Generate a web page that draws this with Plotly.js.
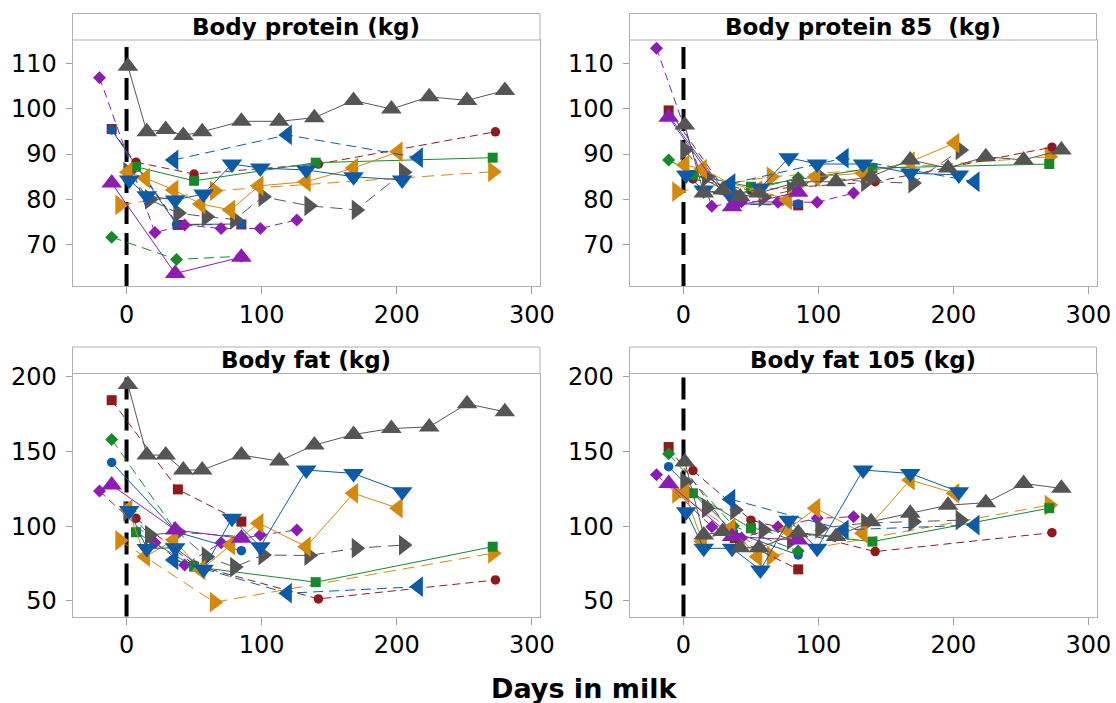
<!DOCTYPE html>
<html><head><meta charset="utf-8">
<script src="https://cdn.plot.ly/plotly-3.0.1.min.js"></script>
<style>html,body{margin:0;padding:0;background:#fff}#chart{width:1116px;height:703px}</style>
</head><body><div id="chart"></div>
<script>
// ---- text ----
const panelTitles = ["Body protein (kg)", "Body protein 85\u00a0 (kg)", "Body fat (kg)", "Body fat 105 (kg)"];
const xAxisLabel = "Days in milk";
const xTickVals = [0, 100, 200, 300];
const proteinTickVals = [70, 80, 90, 100, 110];
const fatTickVals = [50, 100, 150, 200];

// ---- data: one block per animal (days in milk, then protein, protein 85, fat, fat 105) ----
const grayTriUpDays      = [1, 15, 29, 42, 56, 85, 113, 139, 168, 196, 224, 252, 280];
const grayTriUpProtein   = [109.3, 94.9, 95.4, 94.1, 94.9, 97.2, 97.2, 98.0, 101.8, 99.9, 102.6, 101.8, 104.0];
const grayTriUpProtein85 = [96.4, 81.4, 82.1, 80.6, 81.4, 83.9, 83.9, 85.0, 88.7, 86.9, 89.4, 88.7, 90.9];
const grayTriUpFat       = [195, 147.6, 147.6, 137.6, 137.6, 147.6, 143.6, 154.3, 161.4, 165.4, 166.5, 182, 176.6];
const grayTriUpFat105    = [143, 94, 96.3, 85.5, 85.5, 95.5, 93, 103, 108.6, 114, 115.7, 128.6, 125.3];

const grayTriRightDays      = [1, 17, 38, 59, 80, 101, 135, 170, 205];
const grayTriRightProtein   = [86, 80, 77, 76.2, 75.6, 80.6, 78.6, 77.7, 86];
const grayTriRightProtein85 = [90.9, 85, 81, 80.5, 82, 85, 83.9, 83.6, 90.9];
const grayTriRightFat       = [110, 94, 96, 79.5, 72.5, 80.6, 80.3, 85.2, 87.3];
const grayTriRightFat105    = [129.5, 112, 110.8, 97.4, 90.7, 98.5, 102, 103, 104];

const purpleDiamondDays      = [-20, 21, 43, 70, 99, 126];
const purpleDiamondProtein   = [106.8, 72.7, 74.4, 73.6, 73.6, 75.5];
const purpleDiamondProtein85 = [113.3, 78.5, 79.5, 79.4, 79.4, 81.4];
const purpleDiamondFat       = [123.5, 88.9, 74, 88.9, 94, 97.4];
const purpleDiamondFat105    = [134.5, 99.6, 92, 99.6, 105.2, 106.3];

const purpleTriUpDays      = [-11, 36, 85];
const purpleTriUpProtein   = [83.6, 63.7, 67.3];
const purpleTriUpProtein85 = [98.1, 78.4, 81.6];
const purpleTriUpFat       = [127.5, 97.4, 91.8];
const purpleTriUpFat105    = [128.6, 93, 90.7];

const redSquareDays      = [-11, 38, 85];
const redSquareProtein   = [95.5, 74.4, 74.5];
const redSquareProtein85 = [99.6, 79, 78.7];
const redSquareFat       = [184.4, 124.6, 103];
const redSquareFat105    = [153, 92, 71];

const greenDiamondDays      = [-11, 37, 85];
const greenDiamondProtein   = [71.7, 66.8, 67.5];
const greenDiamondProtein85 = [88.7, 81, 84.8];
const greenDiamondFat       = [158.1, 96, 93];
const greenDiamondFat105    = [148.5, 100, 83.3];

const blueCircleDays      = [-11, 37, 85];
const blueCircleProtein   = [95.3, 74.5, 74.6];
const blueCircleProtein85 = [98.5, 79, 79];
const blueCircleFat       = [142.7, 96, 83.5];
const blueCircleFat105    = [139.8, 96, 80.7];

const redCircleDays      = [7, 50, 142, 273];
const redCircleProtein   = [88.2, 85.6, 87.8, 94.9];
const redCircleProtein85 = [84.5, 82, 83.9, 91.5];
const redCircleFat       = [105.2, 74, 51.2, 63.9];
const redCircleFat105    = [137.2, 104, 82.9, 95.6];

const greenSquareDays      = [7, 50, 140, 271];
const greenSquareProtein   = [87.2, 84.1, 88.1, 89.2];
const greenSquareProtein85 = [85.4, 82.8, 86.9, 87.8];
const greenSquareFat       = [95.9, 72.8, 62.4, 86.2];
const greenSquareFat105    = [122, 98.5, 89.6, 112];

const blueTriLeftDays      = [35, 119, 216];
const blueTriLeftProtein   = [88.7, 94.2, 89.2];
const blueTriLeftProtein85 = [83.5, 89.1, 83.9];
const blueTriLeftFat       = [77.3, 55, 59.4];
const blueTriLeftFat105    = [118, 97.5, 100.7];

const blueTriDownDays      = [2, 15, 36, 57, 78, 99, 133, 168, 204];
const blueTriDownProtein   = [84.3, 80.8, 79.9, 81.2, 87.8, 86.9, 86.5, 85, 84.3];
const blueTriDownProtein85 = [85.4, 82.1, 80.5, 82.5, 89.2, 87.8, 87.8, 85.8, 85.4];
const blueTriDownFat       = [110.5, 85, 85.5, 71, 105.2, 86.2, 137.6, 135.3, 123];
const blueTriDownFat105    = [109.6, 85.1, 85.1, 70.6, 104, 85.1, 137.6, 135.3, 123];

const orangeTriLeftDays      = [1, 14, 35, 55, 77, 98, 133, 168, 201];
const orangeTriLeftProtein   = [86, 84.7, 82.1, 79, 77.7, 83, 83.9, 86.9, 90.5];
const orangeTriLeftProtein85 = [87.6, 86.7, 83.5, 82, 79.9, 85, 85.8, 88.3, 92.4];
const orangeTriLeftFat       = [111, 79.5, 90.7, 70.6, 87.3, 101.9, 86.2, 122, 112];
const orangeTriLeftFat105    = [122, 89.6, 98.5, 79.5, 97.4, 112, 95.2, 130.9, 122];

const orangeTriRightDays      = [-5, 65, 271];
const orangeTriRightProtein   = [78.8, 81.9, 86.1];
const orangeTriRightProtein85 = [81.7, 85, 89.4];
const orangeTriRightFat       = [90.4, 49, 81.8];
const orangeTriRightFat105    = [122, 80, 114.1];

// ---- styles (kept apart from the data) ----
const RED = '#8f1a1a', GREEN = '#16892b', BLUE = '#0c5ba8', ORANGE = '#d4890c', PURPLE = '#8c1cb4', GRAY = '#555555';
const animals = [
  {days: orangeTriRightDays, vals: [orangeTriRightProtein, orangeTriRightProtein85, orangeTriRightFat, orangeTriRightFat105], color: ORANGE, symbol: 'triangle-right', size: 18, dash: '12px,7px'},
  {days: redSquareDays, vals: [redSquareProtein, redSquareProtein85, redSquareFat, redSquareFat105], color: RED, symbol: 'square', size: 10, dash: '8px,5px'},
  {days: blueCircleDays, vals: [blueCircleProtein, blueCircleProtein85, blueCircleFat, blueCircleFat105], color: BLUE, symbol: 'circle', size: 9.5, dash: 'solid'},
  {days: greenDiamondDays, vals: [greenDiamondProtein, greenDiamondProtein85, greenDiamondFat, greenDiamondFat105], color: GREEN, symbol: 'diamond', size: 10, dash: '10px,6px'},
  {days: purpleDiamondDays, vals: [purpleDiamondProtein, purpleDiamondProtein85, purpleDiamondFat, purpleDiamondFat105], color: PURPLE, symbol: 'diamond', size: 10, dash: '8px,5px'},
  {days: redCircleDays, vals: [redCircleProtein, redCircleProtein85, redCircleFat, redCircleFat105], color: RED, symbol: 'circle', size: 9.5, dash: '8px,5px'},
  {days: greenSquareDays, vals: [greenSquareProtein, greenSquareProtein85, greenSquareFat, greenSquareFat105], color: GREEN, symbol: 'square', size: 10, dash: 'solid'},
  {days: grayTriRightDays, vals: [grayTriRightProtein, grayTriRightProtein85, grayTriRightFat, grayTriRightFat105], color: GRAY, symbol: 'triangle-right', size: 18, dash: '12px,7px'},
  {days: orangeTriLeftDays, vals: [orangeTriLeftProtein, orangeTriLeftProtein85, orangeTriLeftFat, orangeTriLeftFat105], color: ORANGE, symbol: 'triangle-left', size: 18, dash: 'solid'},
  {days: blueTriLeftDays, vals: [blueTriLeftProtein, blueTriLeftProtein85, blueTriLeftFat, blueTriLeftFat105], color: BLUE, symbol: 'triangle-left', size: 18, dash: '10px,6px'},
  {days: blueTriDownDays, vals: [blueTriDownProtein, blueTriDownProtein85, blueTriDownFat, blueTriDownFat105], color: BLUE, symbol: 'triangle-down', size: 18, dash: 'solid'},
  {days: purpleTriUpDays, vals: [purpleTriUpProtein, purpleTriUpProtein85, purpleTriUpFat, purpleTriUpFat105], color: PURPLE, symbol: 'triangle-up', size: 18, dash: 'solid'},
  {days: grayTriUpDays, vals: [grayTriUpProtein, grayTriUpProtein85, grayTriUpFat, grayTriUpFat105], color: GRAY, symbol: 'triangle-up', size: 18, dash: 'solid'}
];

const axisIds = [['x', 'y'], ['x2', 'y2'], ['x3', 'y3'], ['x4', 'y4']];
const traces = [];
for (let p = 0; p < 4; p++) {
  for (const a of animals) {
    traces.push({
      type: 'scatter', mode: 'lines+markers',
      x: a.days, y: a.vals[p], xaxis: axisIds[p][0], yaxis: axisIds[p][1],
      line: {color: a.color, width: 1, dash: a.dash},
      marker: {symbol: a.symbol, size: a.size, color: a.color, line: {width: 0}},
      showlegend: false, hoverinfo: 'skip', cliponaxis: false
    });
  }
}

const W = 1116, H = 703;
const domL = [72.5 / W, 540 / W], domR = [629.5 / W, 1096.5 / W];
const domT = [1 - 286 / H, 1 - 40 / H], domB = [1 - 616.5 / H, 1 - 373.5 / H];
const stripTopT = 1 - 13.5 / H, stripTopB = 1 - 347 / H;
const xRange = [-40, 306];
const protRange = [60.95, 115.1];
const fatRange = [39.4, 202.3];

const tickFont = {family: 'DejaVu Sans, Verdana, sans-serif', size: 24, color: '#000'};
function xa(dom, anchor) {
  return {domain: dom, anchor: anchor, range: xRange, tickvals: xTickVals, ticks: 'outside', ticklen: 7,
    tickcolor: '#a0a0a0', showline: true, mirror: true, linecolor: '#b0b0b0', linewidth: 1,
    showgrid: false, zeroline: false, tickfont: tickFont, fixedrange: true};
}
function ya(dom, anchor, range, tv) {
  return {domain: dom, anchor: anchor, range: range, tickvals: tv, ticks: 'outside', ticklen: 6,
    tickcolor: '#a0a0a0', showline: true, mirror: true, linecolor: '#b0b0b0', linewidth: 1,
    showgrid: false, zeroline: false, tickfont: tickFont, fixedrange: true, ticklabelstandoff: 4};
}

const panels = [
  {xd: domL, yd: domT, st: stripTopT, xr: 'x', yr: 'y'},
  {xd: domR, yd: domT, st: stripTopT, xr: 'x2', yr: 'y2'},
  {xd: domL, yd: domB, st: stripTopB, xr: 'x3', yr: 'y3'},
  {xd: domR, yd: domB, st: stripTopB, xr: 'x4', yr: 'y4'}
];
const shapes = [], annotations = [];
panels.forEach((pn, i) => {
  shapes.push({type: 'rect', xref: 'paper', yref: 'paper', x0: pn.xd[0], x1: pn.xd[1], y0: pn.yd[1], y1: pn.st,
    line: {color: '#b0b0b0', width: 1}, fillcolor: '#ffffff', layer: 'above'});
  shapes.push({type: 'line', xref: pn.xr, yref: pn.yr + ' domain', x0: 0, x1: 0, y0: 0, y1: 1,
    line: {color: '#000', width: 4, dash: '22px,9px'}, layer: 'below'});
  annotations.push({xref: 'paper', yref: 'paper', x: (pn.xd[0] + pn.xd[1]) / 2, y: (pn.yd[1] + pn.st) / 2,
    xanchor: 'center', yanchor: 'middle', showarrow: false, text: panelTitles[i],
    font: {family: 'DejaVu Sans, Verdana, sans-serif', size: 23, color: '#000', weight: 'bold'}});
});
annotations.push({xref: 'paper', yref: 'paper', x: 584 / W, y: 1 - 688 / H, xanchor: 'center', yanchor: 'middle',
  showarrow: false, text: xAxisLabel, font: {family: 'DejaVu Sans, Verdana, sans-serif', size: 27, color: '#000', weight: 'bold'}});

const layout = {
  width: W, height: H, margin: {l: 0, r: 0, t: 0, b: 0},
  paper_bgcolor: '#fff', plot_bgcolor: '#fff', showlegend: false, hovermode: false,
  xaxis: xa(domL, 'y'), yaxis: ya(domT, 'x', protRange, proteinTickVals),
  xaxis2: xa(domR, 'y2'), yaxis2: ya(domT, 'x2', protRange, proteinTickVals),
  xaxis3: xa(domL, 'y3'), yaxis3: ya(domB, 'x3', fatRange, fatTickVals),
  xaxis4: xa(domR, 'y4'), yaxis4: ya(domB, 'x4', fatRange, fatTickVals),
  shapes: shapes, annotations: annotations
};
Plotly.newPlot('chart', traces, layout, {displayModeBar: false, staticPlot: true});
</script></body></html>
